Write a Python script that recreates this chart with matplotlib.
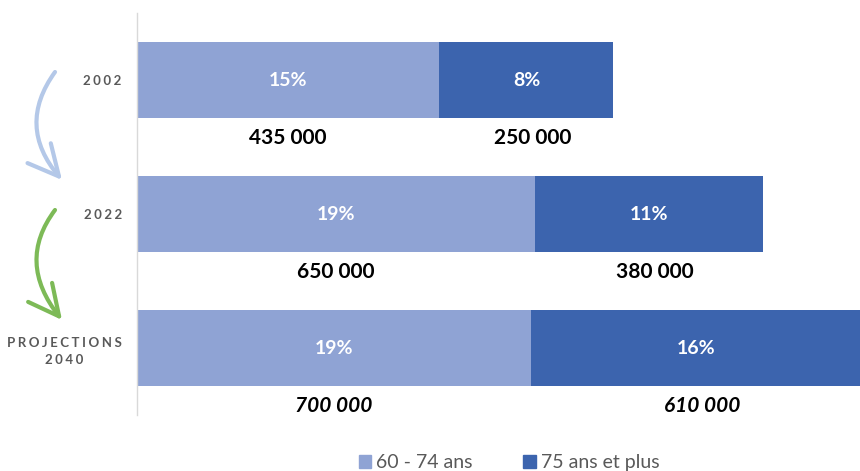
import matplotlib.pyplot as plt
import numpy as np
from matplotlib.patches import FancyArrowPatch, ArrowStyle, Patch
from matplotlib.path import Path

plt.rcParams['font.family'] = ['Lato', 'DejaVu Sans']

# donnees
sp = "\u2009\u200a"
annees = [sp.join("2002"), sp.join("2022"), sp.join("PROJECTIONS") + "\n" + sp.join("2040")]
part_60_74 = [14.6, 19.2, 19.0]
part_75_plus = [8.4, 11.0, 16.5]
lab_60_74 = ["15%", "19%", "19%"]
lab_75_plus = ["8%", "11%", "16%"]
nb_60_74 = ["435 000", "650 000", "700 000"]
nb_75_plus = ["250 000", "380 000", "610 000"]
series = ["60 - 74 ans", "75 ans et plus"]

c_light = "#8FA3D4"
c_dark = "#3C64AE"
c_grey = "#595959"

fig = plt.figure(figsize=(8.6, 4.71), dpi=100)

# fleches decoratives (coordonnees pixel)
deco = fig.add_axes([0, 0, 1, 1], zorder=0)
deco.set_xlim(0, 860)
deco.set_ylim(471, 0)
deco.axis('off')
head = ArrowStyle('->', head_length=2.2, head_width=1.1)
for (x0, y0, cx, cy, x1, y1), col in [((55, 72, 16, 126, 62, 180), "#B4C8E8"),
                                      ((55, 210, 16, 262, 62, 320), "#7DBA57")]:
    p = Path([(x0, y0), (cx, cy), (x1, y1)], [Path.MOVETO, Path.CURVE3, Path.CURVE3])
    deco.add_patch(FancyArrowPatch(path=p, arrowstyle=head, mutation_scale=10,
                                   color=col, lw=3, capstyle='round', joinstyle='round'))

ax = fig.add_axes([137 / 860, 1 - 415 / 471, 1 - 137 / 860, (415 - 13) / 471], zorder=1)
ax.patch.set_alpha(0)
y = np.arange(len(annees))
h = 0.56
ax.barh(y, part_60_74, height=h, color=c_light, label=series[0])
ax.barh(y, part_75_plus, left=part_60_74, height=h, color=c_dark, label=series[1])
ax.set_xlim(0, 34.9)
ax.set_ylim(2.5, -0.5)

for i in range(len(y)):
    xl = part_60_74[i] / 2
    xd = part_60_74[i] + part_75_plus[i] / 2
    if i == 2:
        xd = part_60_74[i] + 8.0
    ax.text(xl, y[i], lab_60_74[i], color='white', fontsize=14, fontweight='bold',
            ha='center', va='center')
    ax.text(xd, y[i], lab_75_plus[i], color='white', fontsize=14, fontweight='bold',
            ha='center', va='center')
    style = 'italic' if i == 2 else 'normal'
    ax.text(xl, y[i] + 0.43, nb_60_74[i], color='black', fontsize=15, fontweight='bold',
            ha='center', va='center', style=style)
    ax.text(xd + 0.3, y[i] + 0.43, nb_75_plus[i], color='black', fontsize=15, fontweight='bold',
            ha='center', va='center', style=style)

ax.set_yticks(y)
ax.set_yticklabels(annees, fontsize=9.5, fontweight='bold', color=c_grey,
                   multialignment='center', linespacing=1.5)
ax.tick_params(axis='y', length=0, pad=11)
ax.set_xticks([])
for s in ['top', 'right', 'bottom']:
    ax.spines[s].set_visible(False)
ax.spines['left'].set_color('#D9D9D9')
ax.spines['left'].set_linewidth(1)

handles = [Patch(color=c_light), Patch(color=c_dark)]
fig.legend(handles, series, loc='center', bbox_to_anchor=(509 / 860, 0.018), ncol=2,
           frameon=False, fontsize=14, labelcolor=c_grey, handlelength=0.65,
           handleheight=0.65, handletextpad=0.25, columnspacing=2.6)

fig.savefig("out.png", dpi=100)
